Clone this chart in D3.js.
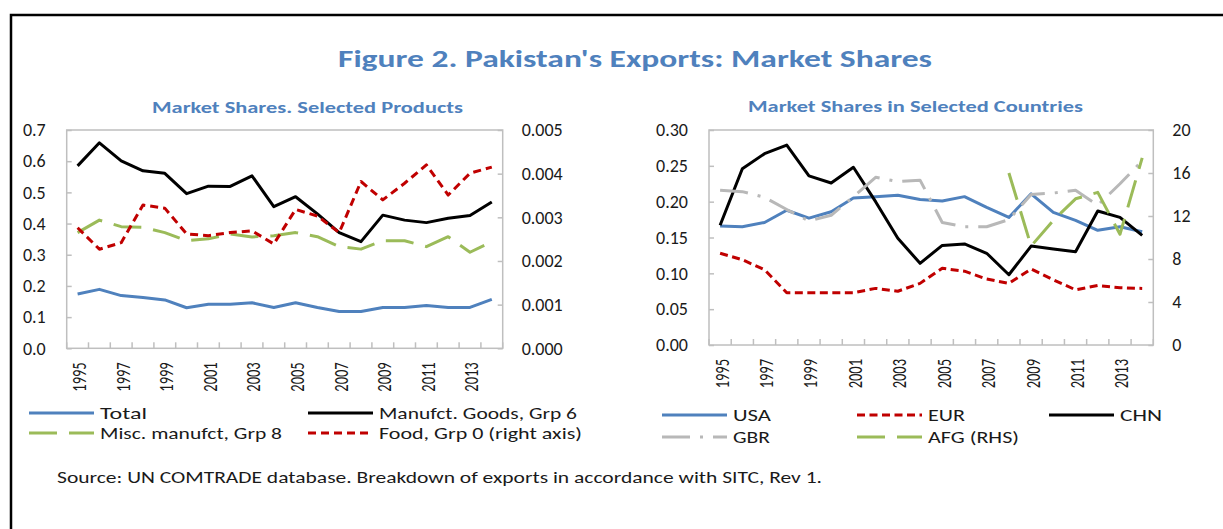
<!DOCTYPE html>
<html>
<head>
<meta charset="utf-8">
<script src="https://cdn.jsdelivr.net/npm/d3@7/dist/d3.min.js"></script>
<style>
  body { margin: 0; background: #fff; }
  svg text { font-family: Carlito, Lato, sans-serif; fill: #1a1a1a; }
</style>
</head>
<body>
<svg id="fig" width="1223" height="529"></svg>
<script>
// categories
var years = [1995, 1996, 1997, 1998, 1999, 2000, 2001, 2002, 2003, 2004,
             2005, 2006, 2007, 2008, 2009, 2010, 2011, 2012, 2013, 2014];
var yearLabels = [1995, 1997, 1999, 2001, 2003, 2005, 2007, 2009, 2011, 2013];

// left panel: market shares, selected products
var total   = [0.174, 0.189, 0.169, 0.163, 0.155, 0.130, 0.141, 0.141, 0.146, 0.131,
               0.146, 0.131, 0.118, 0.118, 0.131, 0.131, 0.137, 0.131, 0.131, 0.157];
var manufct = [0.585, 0.659, 0.601, 0.569, 0.561, 0.496, 0.520, 0.519, 0.553, 0.454,
               0.486, 0.431, 0.371, 0.342, 0.427, 0.411, 0.403, 0.417, 0.426, 0.469];
var misc    = [0.371, 0.411, 0.390, 0.388, 0.371, 0.345, 0.351, 0.367, 0.357, 0.361,
               0.371, 0.358, 0.326, 0.318, 0.345, 0.345, 0.326, 0.358, 0.308, 0.342];
var food    = [0.00276, 0.00227, 0.00242, 0.00328, 0.00321, 0.00262, 0.00258, 0.00265, 0.00269, 0.00239,
               0.00318, 0.00303, 0.00265, 0.00382, 0.00340, 0.00378, 0.00420, 0.00351, 0.00401, 0.00415];
var prodTicksL = [0, 0.1, 0.2, 0.3, 0.4, 0.5, 0.6, 0.7];
var prodTicksR = [0, 0.001, 0.002, 0.003, 0.004, 0.005];

// right panel: market shares in selected countries
var usa = [0.166, 0.165, 0.171, 0.188, 0.177, 0.186, 0.205, 0.207, 0.209, 0.203,
           0.201, 0.207, 0.192, 0.178, 0.211, 0.185, 0.174, 0.160, 0.165, 0.158];
var eur = [0.128, 0.119, 0.105, 0.073, 0.073, 0.073, 0.073, 0.079, 0.075, 0.086,
           0.107, 0.103, 0.092, 0.086, 0.106, 0.091, 0.077, 0.083, 0.080, 0.079];
var chn = [0.167, 0.246, 0.267, 0.279, 0.236, 0.226, 0.248, 0.200, 0.149, 0.114,
           0.139, 0.141, 0.128, 0.098, 0.138, 0.134, 0.130, 0.187, 0.178, 0.153];
var gbr = [0.216, 0.214, 0.206, 0.189, 0.173, 0.181, 0.207, 0.234, 0.228, 0.230,
           0.171, 0.165, 0.165, 0.175, 0.210, 0.212, 0.216, 0.195, 0.225, 0.257];
var afg = [null, null, null, null, null, null, null, null, null, null,
           null, null, null, 16.0, 9.2, 11.6, 13.6, 14.2, 10.3, 17.4];
var ctryTicksL = [0, 0.05, 0.10, 0.15, 0.20, 0.25, 0.30];
var ctryTicksR = [0, 4, 8, 12, 16, 20];

var BLUE = "#4f81bd", RED = "#c00000", GREEN = "#9bbb59", GRAY = "#b8b8b8", BLACK = "#000";

var svg = d3.select("#fig");

// outer frame
svg.append("path")
  .attr("d", "M11,529V15H1223")
  .attr("fill", "none")
  .attr("stroke", "#000")
  .attr("stroke-width", 2.5);

svg.append("text")
  .attr("x", 338).attr("y", 67)
  .attr("textLength", 594).attr("lengthAdjust", "spacingAndGlyphs")
  .style("font-size", "25px").style("font-weight", "bold")
  .style("fill", BLUE)
  .text("Figure 2. Pakistan's Exports: Market Shares");

function drawPanel(p) {
  var x = d3.scaleBand().domain(years).range([p.x0, p.x1]).padding(0);
  var yL = d3.scaleLinear().domain([0, p.ticksL[p.ticksL.length - 1]]).range([p.y1, p.y0]);
  var yR = d3.scaleLinear().domain([0, p.ticksR[p.ticksR.length - 1]]).range([p.y1, p.y0]);
  var g = svg.append("g");

  g.append("text")
    .attr("x", p.subX).attr("y", p.subY)
    .attr("textLength", p.subW).attr("lengthAdjust", "spacingAndGlyphs")
    .style("font-size", "15px").style("font-weight", "bold")
    .style("fill", BLUE)
    .text(p.subtitle);

  // plot box
  g.append("rect")
    .attr("x", p.x0).attr("y", p.y0)
    .attr("width", p.x1 - p.x0).attr("height", p.y1 - p.y0)
    .attr("fill", "none").attr("stroke", "#bfbfbf").attr("stroke-width", 1.5);

  // y axes
  var axL = g.append("g").attr("transform", "translate(" + p.x0 + ",0)")
    .call(d3.axisLeft(yL).tickValues(p.ticksL).tickFormat(d3.format(p.fmtL)).tickSize(-5).tickPadding(21));
  var axR = g.append("g").attr("transform", "translate(" + p.x1 + ",0)")
    .call(d3.axisRight(yR).tickValues(p.ticksR).tickFormat(d3.format(p.fmtR)).tickSize(-5).tickPadding(19));
  [axL, axR].forEach(function (a) {
    a.select(".domain").remove();
    a.selectAll("line").attr("stroke", "#bfbfbf").attr("stroke-width", 1.5);
    a.selectAll("text").style("font-size", "18px").attr("fill", "#1a1a1a");
  });

  // category ticks at band edges
  var edges = years.map(function (d) { return x(d); }).concat([x.range()[1]]);
  g.selectAll(".xt").data(edges).join("line")
    .attr("x1", function (d) { return d; }).attr("x2", function (d) { return d; })
    .attr("y1", p.y1).attr("y2", p.y1 - 6)
    .attr("stroke", "#bfbfbf").attr("stroke-width", 1.5);

  g.selectAll(".xl").data(yearLabels).join("text")
    .attr("transform", function (d) {
      return "translate(" + (x(d) + x.bandwidth() / 2 + 1.5) + "," + (p.y1 + 14) + ") rotate(-90) scale(1,1.4)";
    })
    .attr("text-anchor", "end")
    .attr("dominant-baseline", "central")
    .style("font-size", "14.5px")
    .text(function (d) { return d; });

  p.series.forEach(function (s) {
    var ys = s.axis === "R" ? yR : yL;
    var line = d3.line()
      .defined(function (d) { return d != null; })
      .x(function (d, i) { return x(years[i]) + x.bandwidth() / 2; })
      .y(function (d) { return ys(d); });
    g.append("path")
      .datum(s.values)
      .attr("d", line)
      .attr("fill", "none")
      .attr("stroke", s.color)
      .attr("stroke-width", 3)
      .attr("stroke-dasharray", s.dash || null)
      .attr("stroke-linejoin", "round");
  });

  // legend
  p.legend.forEach(function (l) {
    var s = p.series[l.i];
    g.append("line")
      .attr("x1", l.x).attr("x2", l.x + 65)
      .attr("y1", l.y).attr("y2", l.y)
      .attr("stroke", s.color).attr("stroke-width", 3)
      .attr("stroke-dasharray", s.dash || null);
    g.append("text")
      .attr("x", l.x + 71).attr("y", l.y)
      .attr("textLength", l.w).attr("lengthAdjust", "spacingAndGlyphs")
      .attr("dominant-baseline", "central")
      .style("font-size", "17px")
      .text(s.name);
  });
}

drawPanel({
  x0: 66.7, x1: 502.7, y0: 130, y1: 348.3,
  ticksL: prodTicksL, ticksR: prodTicksR, fmtL: ".1f", fmtR: ".3f",
  subtitle: "Market Shares. Selected Products", subX: 152, subY: 113, subW: 311,
  series: [
    { name: "Total", values: total, axis: "L", color: BLUE },
    { name: "Misc. manufct, Grp 8", values: misc, axis: "L", color: GREEN, dash: "28,12" },
    { name: "Manufct. Goods, Grp 6", values: manufct, axis: "L", color: BLACK },
    { name: "Food, Grp 0 (right axis)", values: food, axis: "R", color: RED, dash: "8,5" }
  ],
  legend: [
    { i: 0, x: 29, y: 413, w: 47 }, { i: 2, x: 308, y: 413, w: 198 },
    { i: 1, x: 29, y: 433, w: 182 }, { i: 3, x: 308, y: 433, w: 203 }
  ]
});

drawPanel({
  x0: 709, x1: 1153.3, y0: 130, y1: 345,
  ticksL: ctryTicksL, ticksR: ctryTicksR, fmtL: ".2f", fmtR: "d",
  subtitle: "Market Shares in Selected Countries", subX: 748, subY: 112, subW: 335,
  series: [
    { name: "USA", values: usa, axis: "L", color: BLUE },
    { name: "EUR", values: eur, axis: "L", color: RED, dash: "8,4.5" },
    { name: "CHN", values: chn, axis: "L", color: BLACK },
    { name: "GBR", values: gbr, axis: "L", color: GRAY, dash: "28,10,3,10" },
    { name: "AFG (RHS)", values: afg, axis: "R", color: GREEN, dash: "28,12" }
  ],
  legend: [
    { i: 0, x: 662, y: 415, w: 38 }, { i: 1, x: 857, y: 415, w: 37 }, { i: 2, x: 1049, y: 415, w: 42 },
    { i: 3, x: 662, y: 437, w: 37 }, { i: 4, x: 857, y: 437, w: 91 }
  ]
});

svg.append("text")
  .attr("x", 57).attr("y", 477)
  .attr("textLength", 765).attr("lengthAdjust", "spacingAndGlyphs")
  .attr("dominant-baseline", "central")
  .style("font-size", "17px")
  .text("Source: UN COMTRADE database. Breakdown of exports in accordance with SITC, Rev 1.");
</script>
</body>
</html>
